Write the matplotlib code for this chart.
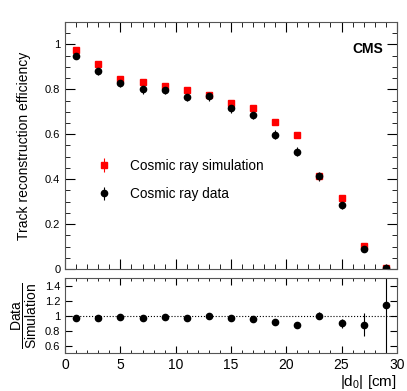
import numpy as np
import matplotlib
matplotlib.use('Agg')
import matplotlib.pyplot as plt
from matplotlib.ticker import MultipleLocator

plt.rcParams['font.family'] = ['Liberation Sans', 'DejaVu Sans']
plt.rcParams['mathtext.fontset'] = 'custom'
plt.rcParams['mathtext.rm'] = 'Liberation Sans'
plt.rcParams['mathtext.it'] = 'Liberation Sans'

# bin centres in |d0| [cm]
d0 = [1, 3, 5, 7, 9, 11, 13, 15, 17, 19, 21, 23, 25, 27, 29]

# efficiencies
eff_sim = [0.977, 0.911, 0.846, 0.831, 0.813, 0.796, 0.773, 0.741,
           0.716, 0.653, 0.598, 0.413, 0.317, 0.102, 0.004]
eff_sim_err = [0.005, 0.006, 0.007, 0.007, 0.007, 0.007, 0.007, 0.008,
               0.008, 0.009, 0.009, 0.010, 0.010, 0.008, 0.004]
eff_data = [0.948, 0.880, 0.830, 0.803, 0.799, 0.766, 0.770, 0.715,
            0.686, 0.598, 0.521, 0.412, 0.284, 0.088, 0.004]
eff_data_err = [0.012, 0.018, 0.022, 0.022, 0.022, 0.020, 0.020, 0.020,
                0.020, 0.020, 0.020, 0.020, 0.018, 0.014, 0.004]

# data / simulation
ratio = [0.973, 0.964, 0.982, 0.968, 0.986, 0.968, 1.0, 0.968,
         0.960, 0.914, 0.873, 1.0, 0.90, 0.88, 1.14]
ratio_err = [0.012, 0.018, 0.025, 0.025, 0.025, 0.025, 0.025, 0.025,
             0.028, 0.03, 0.034, 0.05, 0.06, 0.15, 1.0]

fig = plt.figure(figsize=(4.07, 3.91), dpi=100)
ax = fig.add_axes([0.160, 0.312, 0.815, 0.632])
axr = fig.add_axes([0.160, 0.097, 0.815, 0.192])

ax.errorbar(d0, eff_sim, yerr=eff_sim_err, fmt='s', color='red', ms=4.5,
            elinewidth=0.8, capsize=0, label='Cosmic ray simulation')
ax.errorbar(d0, eff_data, yerr=eff_data_err, fmt='o', color='black', ms=4.5,
            elinewidth=0.8, capsize=0, label='Cosmic ray data')

ax.set_xlim(0, 30)
ax.set_ylim(0, 1.1)
ax.xaxis.set_major_locator(MultipleLocator(5))
ax.xaxis.set_minor_locator(MultipleLocator(1))
ax.yaxis.set_minor_locator(MultipleLocator(0.05))
ax.set_yticks([0, 0.2, 0.4, 0.6, 0.8, 1.0])
ax.set_yticklabels(['0', '0.2', '0.4', '0.6', '0.8', '1'])
ax.tick_params(which='both', direction='in', top=True, right=True, labelsize=8)
ax.tick_params(which='major', length=7)
ax.tick_params(which='minor', length=3.5)
ax.tick_params(axis='x', labelbottom=False)
ax.set_ylabel('Track reconstruction efficiency', fontsize=10, labelpad=10)
ax.text(0.96, 0.89, 'CMS', transform=ax.transAxes, ha='right', va='center',
        fontsize=10, fontweight='bold')
ax.legend(loc='upper left', bbox_to_anchor=(0.06, 0.468), frameon=False,
          fontsize=9.8, handletextpad=0.9, labelspacing=1.05, borderaxespad=0)
for s in ax.spines.values():
    s.set_color('#555555')

axr.errorbar(d0, ratio, yerr=ratio_err, fmt='o', color='black', ms=4.5,
             elinewidth=0.8, capsize=0)
axr.axhline(1.0, color='black', ls=':', lw=0.8)
axr.set_xlim(0, 30)
axr.set_ylim(0.5, 1.5)
axr.xaxis.set_major_locator(MultipleLocator(5))
axr.xaxis.set_minor_locator(MultipleLocator(1))
axr.set_yticks([0.6, 0.8, 1.0, 1.2, 1.4])
axr.set_yticklabels(['0.6', '0.8', '1', '1.2', '1.4'])
axr.tick_params(which='both', direction='in', top=True, right=True, labelsize=8)
axr.tick_params(which='major', length=5)
axr.tick_params(which='minor', length=2.5)
axr.tick_params(axis='x', labelsize=10)
axr.set_ylabel(r'$\dfrac{\mathrm{Data}}{\mathrm{Simulation}}$', fontsize=10, labelpad=4)
axr.set_xlabel(r'|d$_0$| [cm]', fontsize=11, loc='right', labelpad=1)
for s in axr.spines.values():
    s.set_color('#555555')

fig.savefig('out.png', dpi=100)
